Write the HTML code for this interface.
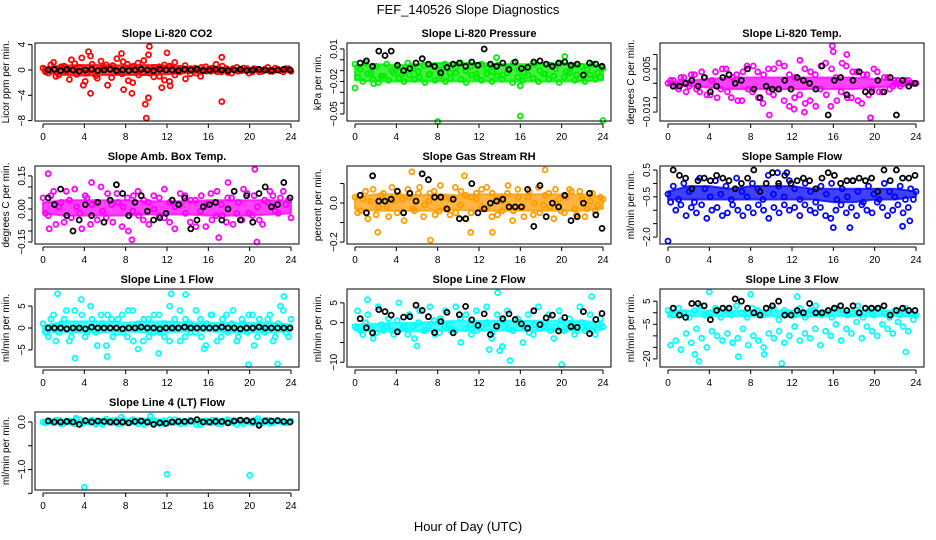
<!DOCTYPE html>
<html><head><meta charset="utf-8"><style>
html,body{margin:0;padding:0;background:#fff;}
svg{display:block;font-family:"Liberation Sans",Arial,sans-serif;}
</style></head><body>
<svg id="chart" width="936" height="540" viewBox="0 0 936 540" xmlns="http://www.w3.org/2000/svg">
<text x="468" y="14" text-anchor="middle" font-size="13">FEF_140526  Slope Diagnostics</text>
<text x="468" y="531" text-anchor="middle" font-size="13">Hour of Day (UTC)</text>
</svg>
<script>
const hourTicks=[0,4,8,12,16,20,24];
const bandHours=[0,2,4,6,8,10,12,14,16,18,20,22,24];
// Panel 1 CO2
const co2C1=[0.3,-0.5,1.2,-0.8,0.6,-1.5,1.0,0.4,-1.8,2.2,-0.9,1.4,0.8,-1.2,1.8,-0.6,0.9,-2.0,1.1,-0.4,2.4,-1.1,0.5,-1.6,0.6,-0.8,0.3,-1.4,0.2,-0.5,0.4,-0.2,0.3,-0.3,0.6,-0.4,0.2,-0.2,0.3,-0.5,0.2,-0.3,0.1,-0.2,0.3,-0.1,0.2,-0.2];
const co2C2=[-0.3,0.8,-1.0,0.5,-0.2,1.6,-0.7,1.9,-0.4,0.9,-1.3,0.3,-2.4,0.7,-0.3,1.3,-1.7,0.6,-0.8,1.5,-0.5,0.4,-1.0,0.8,-1.8,1.2,-0.3,0.7,-0.6,0.3,-1.0,0.5,-0.2,0.9,-0.3,0.2,-0.5,0.4,-0.1,0.2,-0.3,0.1,-0.2,0.4,-0.2,0.1,-0.3,0.2];
const co2K=[0,0.1,-0.1,0.1,0,-0.2,0,0.1,-0.1,0,0.1,-0.1,0,-0.1,0,0.1,0,-0.1,0.1,0,0,-0.1,0.1,0,0.1,-0.1,0,0.1,0,-0.1,0,0.1,-0.1,0,0.1,0,-0.1,0,0.1,0];
const co2Out=[[4.6,-3.7],[10,-7.6],[9.9,-5.4],[10.2,-4.4],[10.3,3.7],[17.3,-5],[17.3,2],[7.6,2.6],[4.4,2.9],[12,2.7],[11.5,-2.8],[12.3,-2.5],[7.8,-3.1],[8.6,-3.7],[3.9,-2.4]];
const co2Lo=[-0.4,-0.8,-0.9,-0.8,-0.8,-0.8,-0.7,-0.5,-0.4,-0.3,-0.3,-0.3,-0.3];
const co2Hi=[0.4,0.7,0.8,0.8,0.7,0.8,0.7,0.5,0.4,0.3,0.3,0.3,0.3];
// Panel 2 Pressure
const prC1=[-0.004,-0.009,-0.003,-0.012,-0.006,-0.015,-0.004,-0.010,-0.007,-0.013,-0.003,-0.008,-0.011,-0.005,-0.014,-0.006,-0.009,-0.004,-0.012,-0.007,-0.003,-0.010,-0.006,-0.013,-0.004,-0.008,-0.011,-0.005,-0.014,-0.007,-0.003,-0.009,-0.012,-0.006,-0.004,-0.010,-0.013,-0.005,-0.008,-0.003,-0.011,-0.007,-0.014,-0.006,-0.009,-0.004,-0.012,-0.008];
const prC2=[-0.016,-0.020,-0.013,-0.018,-0.021,-0.015,-0.019,-0.012,-0.017,-0.020,-0.014,-0.018,-0.016,-0.021,-0.013,-0.019,-0.015,-0.020,-0.017,-0.012,-0.018,-0.021,-0.014,-0.016,-0.019,-0.013,-0.020,-0.015,-0.018,-0.012,-0.021,-0.016,-0.019,-0.014,-0.017,-0.020,-0.013,-0.018,-0.015,-0.021,-0.016,-0.012,-0.019,-0.017,-0.020,-0.014,-0.018,-0.016];
const prK=[-0.003,-0.001,-0.006,0.008,0.004,0.008,-0.005,-0.010,-0.008,-0.003,0.001,-0.004,-0.006,-0.012,-0.007,-0.004,-0.003,-0.006,-0.002,-0.005,0.010,-0.004,-0.006,-0.003,-0.009,-0.002,-0.008,-0.007,-0.002,-0.001,-0.004,-0.006,-0.003,-0.002,-0.005,-0.004,-0.014,-0.003,-0.004,-0.006];
const prOut=[[0,-0.026],[8,-0.057],[16,-0.052],[24,-0.056],[13.7,0.002],[20.3,0.003],[1.8,-0.022],[16,-0.024]];
const prLo=[-0.019,-0.020,-0.020,-0.020,-0.020,-0.020,-0.020,-0.020,-0.020,-0.020,-0.020,-0.020,-0.019];
const prHi=[-0.005,-0.004,-0.005,-0.004,-0.003,-0.003,-0.003,-0.004,-0.004,-0.004,-0.003,-0.004,-0.005];
// Panel 3 Li-820 Temp
const tC1=[0,0.001,-0.002,0.002,-0.001,0.003,-0.003,0.002,-0.004,0.004,-0.002,0.005,-0.005,0.003,-0.006,0.006,-0.003,0.004,-0.007,0.005,-0.004,0.007,-0.006,0.003,-0.005,0.008,-0.007,0.004,-0.008,0.006,-0.004,0.005,-0.006,0.007,-0.005,0.004,-0.006,0.003,-0.004,0.005,-0.003,0.002,-0.002,0.001,-0.001,0.001,0,0];
const tC2=[0.001,-0.001,0.002,-0.003,0.003,-0.002,0.004,-0.004,0.001,-0.005,0.005,-0.003,0.002,-0.006,0.004,-0.002,0.006,-0.005,0.003,-0.003,0.005,-0.002,0.006,-0.008,0.002,-0.004,0.005,-0.006,0.003,-0.002,0.007,-0.008,0.002,-0.003,0.006,-0.005,0.004,-0.007,0.003,-0.002,0.004,-0.003,0.002,-0.001,0.001,0,0.001,0];
const tK=[-0.001,-0.001,0,0.001,-0.001,0.002,-0.003,-0.001,0.002,0.003,0,0.001,0.005,-0.002,-0.005,-0.001,-0.002,-0.002,0.001,-0.002,0.002,0.001,0,-0.002,0.006,-0.011,0.001,0.002,-0.004,0.001,0.004,-0.003,-0.003,0.001,-0.003,0.002,-0.011,0.001,-0.001,0];
const tOut=[[15.9,0.013],[19.6,-0.012],[9.8,-0.011],[17.3,0.010],[16,0.011],[12.2,-0.009],[13.2,-0.010]];
const tLo=[-0.0005,-0.001,-0.0015,-0.002,-0.002,-0.002,-0.002,-0.002,-0.002,-0.002,-0.0015,-0.001,-0.0005];
const tHi=[0.0005,0.001,0.0015,0.002,0.002,0.002,0.002,0.002,0.002,0.002,0.0015,0.001,0.0005];
// Panel 4 Amb Box Temp
const aC1=[0.05,-0.03,0.08,0.01,-0.06,0.04,0.09,-0.02,0.06,-0.07,0.03,0.10,-0.04,0.02,0.07,-0.08,0.05,-0.01,0.08,-0.05,0.03,0.06,-0.03,0.09,-0.06,0.01,0.07,-0.02,0.04,-0.08,0.06,0.02,-0.05,0.08,-0.03,0.05,-0.07,0.03,0.09,-0.02,0.06,-0.05,0.04,0.08,-0.01,0.05,0.02,-0.04];
const aC2=[-0.02,0.06,-0.07,0.03,0.08,-0.04,0.01,-0.09,0.05,0.02,-0.05,-0.01,0.07,-0.06,0.03,0.01,-0.10,0.06,-0.03,0.04,-0.07,0.00,0.05,-0.04,0.03,-0.09,0.02,0.06,-0.06,0.04,-0.01,-0.08,0.07,-0.03,0.02,-0.06,0.05,-0.02,-0.05,0.07,-0.03,0.01,-0.07,0.03,0.06,-0.02,0.08,0.04];
const aK=[0.05,0.02,0.09,-0.03,-0.10,-0.05,0.02,-0.03,0.03,-0.06,0.04,0.11,0.07,-0.03,0.03,0.06,-0.01,-0.05,-0.04,-0.02,0.04,0.02,0.05,-0.09,-0.05,0.01,0.02,0.03,-0.05,0.00,0.08,-0.05,0.06,-0.06,0.07,0.10,0.01,0.02,0.12,0.05];
const aOut=[[0.5,0.16],[20.5,0.18],[20.7,-0.15],[8.6,-0.14],[17,-0.13],[0.6,-0.09],[17.9,0.12],[4.7,0.12]];
const aLo=[-0.02,-0.03,-0.03,-0.03,-0.03,-0.025,-0.025,-0.025,-0.03,-0.03,-0.03,-0.025,-0.02];
const aHi=[0.03,0.04,0.04,0.04,0.04,0.035,0.035,0.035,0.04,0.04,0.04,0.04,0.035];
// Panel 5 Gas Stream RH
const rC1=[0.03,-0.04,0.06,0.01,-0.06,0.04,-0.02,0.08,-0.05,0.02,0.07,-0.03,0.05,-0.07,0.01,0.06,-0.04,0.03,-0.06,0.08,-0.01,0.04,-0.05,0.02,0.07,-0.03,0.05,-0.06,0.01,0.09,-0.04,0.03,-0.07,0.06,0.00,-0.05,0.04,-0.02,0.07,-0.04,0.03,0.06,-0.06,0.02,-0.03,0.05,-0.01,0.02];
const rC2=[-0.05,0.02,-0.08,0.07,-0.02,0.05,-0.07,0.01,0.04,-0.09,0.03,-0.04,0.08,-0.01,0.05,-0.06,0.09,-0.03,0.02,-0.05,0.06,-0.08,0.03,0.05,-0.02,0.08,-0.07,0.02,-0.04,0.05,-0.09,0.07,-0.02,0.03,-0.06,0.08,-0.01,0.05,-0.08,0.02,-0.05,0.07,-0.03,0.06,-0.07,0.01,-0.04,0.03];
const rK=[0.04,-0.05,0.14,0.01,0.01,0.02,0.06,-0.05,0.05,0.01,0.15,0.12,0.03,0.03,-0.03,0.02,-0.08,-0.08,0.10,-0.05,-0.03,0.00,0.01,0.02,-0.02,-0.02,-0.02,0.07,-0.12,0.09,-0.07,0.00,-0.02,0.04,-0.09,-0.07,0.00,0.05,-0.06,-0.13];
const rOut=[[7.3,-0.19],[5.5,0.16],[18.4,0.17],[13.3,-0.15],[2.2,-0.15],[11.2,-0.15],[10.6,0.14]];
const rLo=[-0.03,-0.04,-0.04,-0.04,-0.04,-0.035,-0.04,-0.04,-0.04,-0.04,-0.04,-0.04,-0.03];
const rHi=[0.03,0.045,0.045,0.04,0.045,0.04,0.045,0.045,0.045,0.045,0.045,0.045,0.03];
// Panel 6 Sample Flow
const sC1=[-0.4,-0.1,-0.6,0.0,-0.3,-0.7,0.2,-0.2,-0.5,0.1,-0.4,-0.1,-0.6,0.2,-0.3,-0.5,0.0,-0.2,-0.6,0.3,-0.4,-0.1,-0.5,0.1,-0.2,-0.6,0.0,-0.3,-0.7,-0.1,-0.4,0.0,-0.6,-0.2,-0.5,0.1,-0.3,-0.7,-0.1,-0.4,-0.6,0.0,-0.3,-0.5,-0.1,-0.6,-0.2,-0.3];
const sC2=[-0.7,-1.0,-0.8,-1.2,-0.9,-1.1,-0.8,-1.3,-1.0,-0.9,-1.2,-1.1,-0.8,-1.0,-1.2,-0.9,-1.1,-0.8,-1.0,-1.3,-0.9,-1.1,-0.8,-1.0,-0.9,-1.2,-0.8,-1.0,-1.1,-0.9,-1.2,-1.3,-1.0,-0.8,-1.1,-0.9,-1.2,-0.8,-1.0,-1.1,-0.7,-0.9,-1.2,-1.0,-0.8,-1.1,-0.9,-0.6];
const sK=[0.5,0.3,0.2,-0.2,0.1,0.2,0.1,0.3,0.2,0.1,-0.2,0.0,0.2,0.5,-0.3,0.0,0.4,0.0,0.3,0.0,0.1,0.2,0.1,-0.2,0.2,0.4,0.3,0.0,0.1,0.1,0.2,0.1,0.2,-0.3,0.5,0.1,0.5,0.2,0.2,0.3];
const sOut=[[0,-2.15],[16,-1.65],[17.6,-1.65],[22.7,-1.6],[23.4,-1.4],[10.6,0.4],[11.5,0.4]];
const sLo=[-0.6,-0.6,-0.6,-0.6,-0.6,-0.6,-0.6,-0.6,-0.7,-0.7,-0.6,-0.6,-0.5];
const sHi=[-0.3,-0.1,-0.1,-0.2,-0.1,-0.1,-0.1,-0.2,-0.2,-0.2,-0.2,-0.2,-0.3];
// Panel 7 Line 1 Flow
const l1C1=[1,-2,3,-1,2,-3,4,0,-2,5,-1,3,-4,2,-1,3,-2,4,1,-3,2,-1,3,-2,5,0,-3,2,-1,4,-2,1,3,-3,2,-1,4,-2,1,3,-4,2,-1,3,-2,5,-1,2];
const l1C2=[-1,2,-3,1,4,-2,0,3,-1,2,-4,1,3,-2,2,-1,4,-3,0,2,-2,3,-1,1,-3,2,4,-2,1,-1,2,-4,3,0,-2,3,1,-3,2,-1,3,-2,0,2,-3,1,4,-2];
const l1K=[0,0,0,-0.2,0,0,-0.2,0.2,0,0,0,0,-0.2,0,0,0.2,0,0,-0.2,0,0,0,0.2,0,0,0,0,0,0.2,0,0,-0.2,0,0,0.2,0,0,0,0,0];
const l1Out=[[1.4,7.8],[3.1,-6.9],[6.2,-6.5],[11.2,-5.8],[12.4,7.8],[13.8,7.6],[19.9,-8.4],[22.7,-8.2],[23.3,7.2],[9.2,-4.8],[3.7,6.5],[15.6,-4.7]];
const l1Lo=[-1,-1,-1,-1,-0.8,-1,-1,-0.8,-0.8,-1,-1,-1,-0.8];
const l1Hi=[0.5,1.5,1.5,1.5,1.2,1.5,1.5,1.2,1.2,1.2,1.2,1.2,0.8];
// Panel 8 Line 2 Flow
const l2C1=[-1,-2,0,-1.5,-2.5,-0.5,-1,-2,0.5,-1.5,-3,-1,0,-2,-1,0.5,-2.5,-1,-0.5,-2,1,-1.5,-0.5,-2,-1,0,-2.5,-1,0.5,-1.5,-2,0,-1,-2.5,-0.5,-1.5,0,-2,-1,0.5,-1.5,-0.5,-2,0,-1,-2,-0.5,-1];
const l2C2=[3,-3,2,-4,4,-2,1,-3,5,-1,2,-4,3,-2,4,-3,1,3,-2,4,-5,2,-3,3,-1,4,-4,2,-6,3,-2,1,-5,2,-3,4,-1,2,-4,3,-2,1,-3,4,-2,2,-3,1];
const l2K=[1,-1.3,-2.6,3.3,2.8,1.9,-2.3,1.4,1.5,4.4,3.1,1.5,-2.5,0.3,2.6,-2.6,2,4.1,0.7,-0.7,2.2,-3,-0.9,1,2.2,0.8,-0.3,-1.4,3,-0.5,1.2,1.9,-2.1,1.3,-1,-1.2,2.8,-2.8,0.8,2.3];
const l2Out=[[15,-9.6],[20,-10.6],[22.9,6.6],[13.8,7.6],[6,-5.9],[13,-6.8],[14,-7.1],[1.2,5.8]];
const l2Lo=[-2,-2.2,-2.2,-2.2,-2,-2,-2,-2,-2,-2,-2,-2,-1.8];
const l2Hi=[-0.5,-0.3,0,0,0.3,0.5,0.5,0.5,0.5,0.5,0.5,0.5,0];
// Panel 9 Line 3 Flow
const l3C1=[1,-1,2,0,-2,1,3,-1,0,2,-2,1,-1,3,0,-2,2,1,-1,0,2,-3,1,0,-1,2,-2,1,3,-1,0,-2,2,1,-1,0,3,-2,1,-1,2,0,-2,1,-1,2,0,-1];
const l3C2=[-14,-12,-16,-9,-13,-7,-11,-15,-8,-10,-12,-9,-13,-11,-7,-14,-10,-12,-15,-9,-11,-8,-13,-10,-6,-12,-9,-11,-7,-14,-8,-10,-5,-12,-7,-9,-4,-11,-6,-8,-10,-5,-7,-9,-4,-6,-8,-3];
const l3K=[2,-1,-2,4,4,3,-3,1,2,2,6,5,2,0,-1,2,3,5,-1,-1,1,0,4,0,0,1,2,3,1,3,0,2,2,2,3,-1,1,2,1,1];
const l3Out=[[3,-21],[4,9],[11,-22],[6.8,-19],[8,8],[23,-17],[12.5,7],[9.3,-18],[2.6,-18]];
const l3Lo=[-2,-1.5,-1.5,-1.5,-1.5,-1.5,-1.5,-1.5,-1.5,-1.5,-1.5,-1.5,-1.5];
const l3Hi=[0.5,1,1,1,1,1,1,1,1,1,1,1,0.5];
// Panel 10 Line 4 (LT) Flow
const l4C1=[0,0.03,-0.02,0.04,-0.03,0.02,-0.04,0.05,-0.01,0.03,-0.05,0.02,0.06,-0.02,0.04,-0.03,0.01,0.05,-0.04,0.02,-0.01,0.04,-0.03,0.03,-0.02,0.05,-0.04,0.01,0.03,-0.05,0.02,-0.01,0.04,-0.03,0.02,0.05,-0.02,0.03,-0.04,0.01,0.04,-0.02,0.03,-0.03,0.02,0.01,-0.02,0.02];
const l4C2=[-0.02,0.01,0.04,-0.04,0.02,-0.01,0.05,-0.03,0.02,0.04,-0.02,-0.05,0.01,0.03,-0.04,0.05,-0.02,0.02,0.03,-0.05,0.04,-0.02,0.01,-0.04,0.05,-0.01,0.02,-0.03,0.04,0.01,-0.05,0.03,-0.02,0.04,-0.04,0.01,0.03,-0.05,0.02,0.04,-0.03,0.02,-0.01,0.04,-0.02,0.03,0,-0.01];
const l4K=[0.02,0,0,0.01,0,-0.05,0.03,0,0.02,0.01,0,0,0,-0.02,0.01,0.02,0,-0.05,-0.02,-0.03,0,0.01,0.01,0.02,0.05,0,0,0.01,0.01,-0.02,0.02,0.04,0.03,0.01,-0.07,0.02,0.02,0.03,0.01,0];
const l4Out=[[4,-1.37],[12,-1.1],[20,-1.12],[3.2,0.08],[7.6,0.1],[10.4,0.12],[20.8,0.07]];
const l4Lo=[-0.03,-0.04,-0.04,-0.04,-0.04,-0.04,-0.04,-0.04,-0.04,-0.04,-0.04,-0.04,-0.03];
const l4Hi=[0.03,0.04,0.04,0.04,0.04,0.05,0.04,0.04,0.04,0.04,0.04,0.04,0.03];

const svg=document.getElementById('chart');
const NS='http://www.w3.org/2000/svg';
function mk(tag,attrs,parent){const e=document.createElementNS(NS,tag);for(const k in attrs)e.setAttribute(k,attrs[k]);(parent||svg).appendChild(e);return e;}

const panels=[
 {name:'co2',title:'Slope Li-820 CO2',ylab:'Licor ppm per min.',col:0,row:0,ymin:-8.06,ymax:4.26,ticks:[-8,-4,0,4],labels:['\u22128','\u22124','0','4'],color:'#ff0000',c1:co2C1,c2:co2C2,k:co2K,out:co2Out,lo:co2Lo,hi:co2Hi},
 {name:'pressure',title:'Slope Li-820 Pressure',ylab:'kPa per min.',col:1,row:0,ymin:-0.0565,ymax:0.0155,ticks:[0.01,0,-0.01,-0.02,-0.03,-0.04,-0.05],labels:['0.01','','','\u22120.02','','','\u22120.05'],color:'#00ee00',c1:prC1,c2:prC2,k:prK,out:prOut,lo:prLo,hi:prHi},
 {name:'li820-temp',title:'Slope Li-820 Temp.',ylab:'degrees C per min.',col:2,row:0,ymin:-0.0131,ymax:0.014,ticks:[0.01,0.005,0,-0.005,-0.01],labels:['','0.005','','','\u22120.010'],color:'#ff00ff',c1:tC1,c2:tC2,k:tK,out:tOut,lo:tLo,hi:tHi},
 {name:'amb-box-temp',title:'Slope Amb. Box Temp.',ylab:'degrees C per min.',col:0,row:1,ymin:-0.159,ymax:0.195,ticks:[0.15,0.1,0.05,0,-0.05,-0.1,-0.15],labels:['0.15','','','0.00','','','\u22120.15'],color:'#ff00ff',c1:aC1,c2:aC2,k:aK,out:aOut,lo:aLo,hi:aHi},
 {name:'gas-stream-rh',title:'Slope Gas Stream RH',ylab:'percent per min.',col:1,row:1,ymin:-0.21,ymax:0.19,ticks:[0.1,0,-0.1,-0.2],labels:['','0.0','','\u22120.2'],color:'#ff9c00',c1:rC1,c2:rC2,k:rK,out:rOut,lo:rLo,hi:rHi},
 {name:'sample-flow',title:'Slope Sample Flow',ylab:'ml/min per min.',col:2,row:1,ymin:-2.26,ymax:0.65,ticks:[0.5,0,-0.5,-1,-1.5,-2],labels:['0.5','','\u22120.5','','','\u22122.0'],color:'#0000ff',c1:sC1,c2:sC2,k:sK,out:sOut,lo:sLo,hi:sHi},
 {name:'line1-flow',title:'Slope Line 1 Flow',ylab:'ml/min per min.',col:0,row:2,ymin:-8.9,ymax:8.9,ticks:[5,0,-5],labels:['5','0','\u22125'],color:'#00ffff',c1:l1C1,c2:l1C2,k:l1K,out:l1Out,lo:l1Lo,hi:l1Hi},
 {name:'line2-flow',title:'Slope Line 2 Flow',ylab:'ml/min per min.',col:1,row:2,ymin:-11.2,ymax:8.5,ticks:[5,0,-5,-10],labels:['5','0','','\u221210'],color:'#00ffff',c1:l2C1,c2:l2C2,k:l2K,out:l2Out,lo:l2Lo,hi:l2Hi},
 {name:'line3-flow',title:'Slope Line 3 Flow',ylab:'ml/min per min.',col:2,row:2,ymin:-23.5,ymax:10.3,ticks:[5,0,-5,-10,-15,-20],labels:['5','','\u22125','','','\u221220'],color:'#00ffff',c1:l3C1,c2:l3C2,k:l3K,out:l3Out,lo:l3Lo,hi:l3Hi},
 {name:'line4-flow',title:'Slope Line 4 (LT) Flow',ylab:'ml/min per min.',col:0,row:3,ymin:-1.43,ymax:0.21,ticks:[0,-0.5,-1,-1.5],labels:['0.0','','\u22121.0',''],color:'#00ffff',c1:l4C1,c2:l4C2,k:l4K,out:l4Out,lo:l4Lo,hi:l4Hi}
];
const colLeft=[35,347,660], boxW=264, rowTop=[43,166,289,412], boxH=78;

panels.forEach(p=>{
  const L=colLeft[p.col], T=rowTop[p.row], R=L+boxW, B=T+boxH;
  const xs=h=>L+8+(h/24)*(boxW-16);
  const ys=v=>T+(p.ymax-v)/(p.ymax-p.ymin)*boxH;
  const g=mk('g',{});
  
  
  const t=mk('text',{x:(L+R)/2,y:T-6,'text-anchor':'middle','font-size':'11','font-weight':'bold'},g);
  t.textContent=p.title;
  
  
  const up=bandHours.map((h,i)=>`${xs(h).toFixed(1)},${ys(p.hi[i]).toFixed(1)}`);
  const dn=bandHours.map((h,i)=>`${xs(h).toFixed(1)},${ys(p.lo[i]).toFixed(1)}`).reverse();
  const band=mk('polygon',{points:up.concat(dn).join(' '),fill:p.color,'fill-opacity':0.75,stroke:p.color,'stroke-opacity':0.75,'stroke-width':2,'stroke-linejoin':'round'},g);
  
  
  const pts=mk('g',{fill:'none'},g);
  
  
  const dot=(x,y,c,cls)=>{const e=mk('circle',{cx:x.toFixed(1),cy:y.toFixed(1),r:2.5,stroke:c,'stroke-width':1.8,fill:'none'},pts);
    
    };
  const n1=p.c1.length;
  p.c1.forEach((v,i)=>dot(xs(i*24/(n1-1)),ys(v),p.color,'point-band1'));
  const n2=p.c2.length;
  p.c2.forEach((v,i)=>dot(xs((i+0.5)*24/n2),ys(v),p.color,'point-band2'));
  p.out.forEach(o=>dot(xs(o[0]),ys(o[1]),p.color,'point-outlier'));
  const nk=p.k.length;
  p.k.forEach((v,i)=>dot(xs(0.5+i*23.4/(nk-1)),ys(v),'#000','point-black'));
  mk('rect',{x:L,y:T,width:boxW,height:boxH,fill:'none',stroke:'#000','stroke-width':1},g);
  const xa=mk('g',{},g);
  
  
  mk('line',{x1:xs(0),x2:xs(24),y1:B+3,y2:B+3,stroke:'#000'},xa);
  hourTicks.forEach(h=>{mk('line',{x1:xs(h),x2:xs(h),y1:B+3,y2:B+7,stroke:'#000'},xa);
    const tx=mk('text',{x:xs(h),y:B+19,'text-anchor':'middle','font-size':'10'},xa);tx.textContent=h;
    
    });
  const ya=mk('g',{},g);
  
  
  const yt=p.ticks.map(ys);
  mk('line',{x1:L-3,x2:L-3,y1:Math.min(...yt),y2:Math.max(...yt),stroke:'#000'},ya);
  p.ticks.forEach((v,i)=>{const y=ys(v);mk('line',{x1:L-7,x2:L-3,y1:y,y2:y,stroke:'#000'},ya);
    if(p.labels[i]){const tx=mk('text',{x:L-10,y:y,'text-anchor':'middle','font-size':'10',transform:`rotate(-90 ${L-10} ${y})`},ya);tx.textContent=p.labels[i];
    
    }});
  const yl=mk('text',{x:L-26,y:(T+B)/2,'text-anchor':'middle','font-size':'10',transform:`rotate(-90 ${L-26} ${(T+B)/2})`},g);
  yl.textContent=p.ylab;
  
  
});
</script>
</body></html>
